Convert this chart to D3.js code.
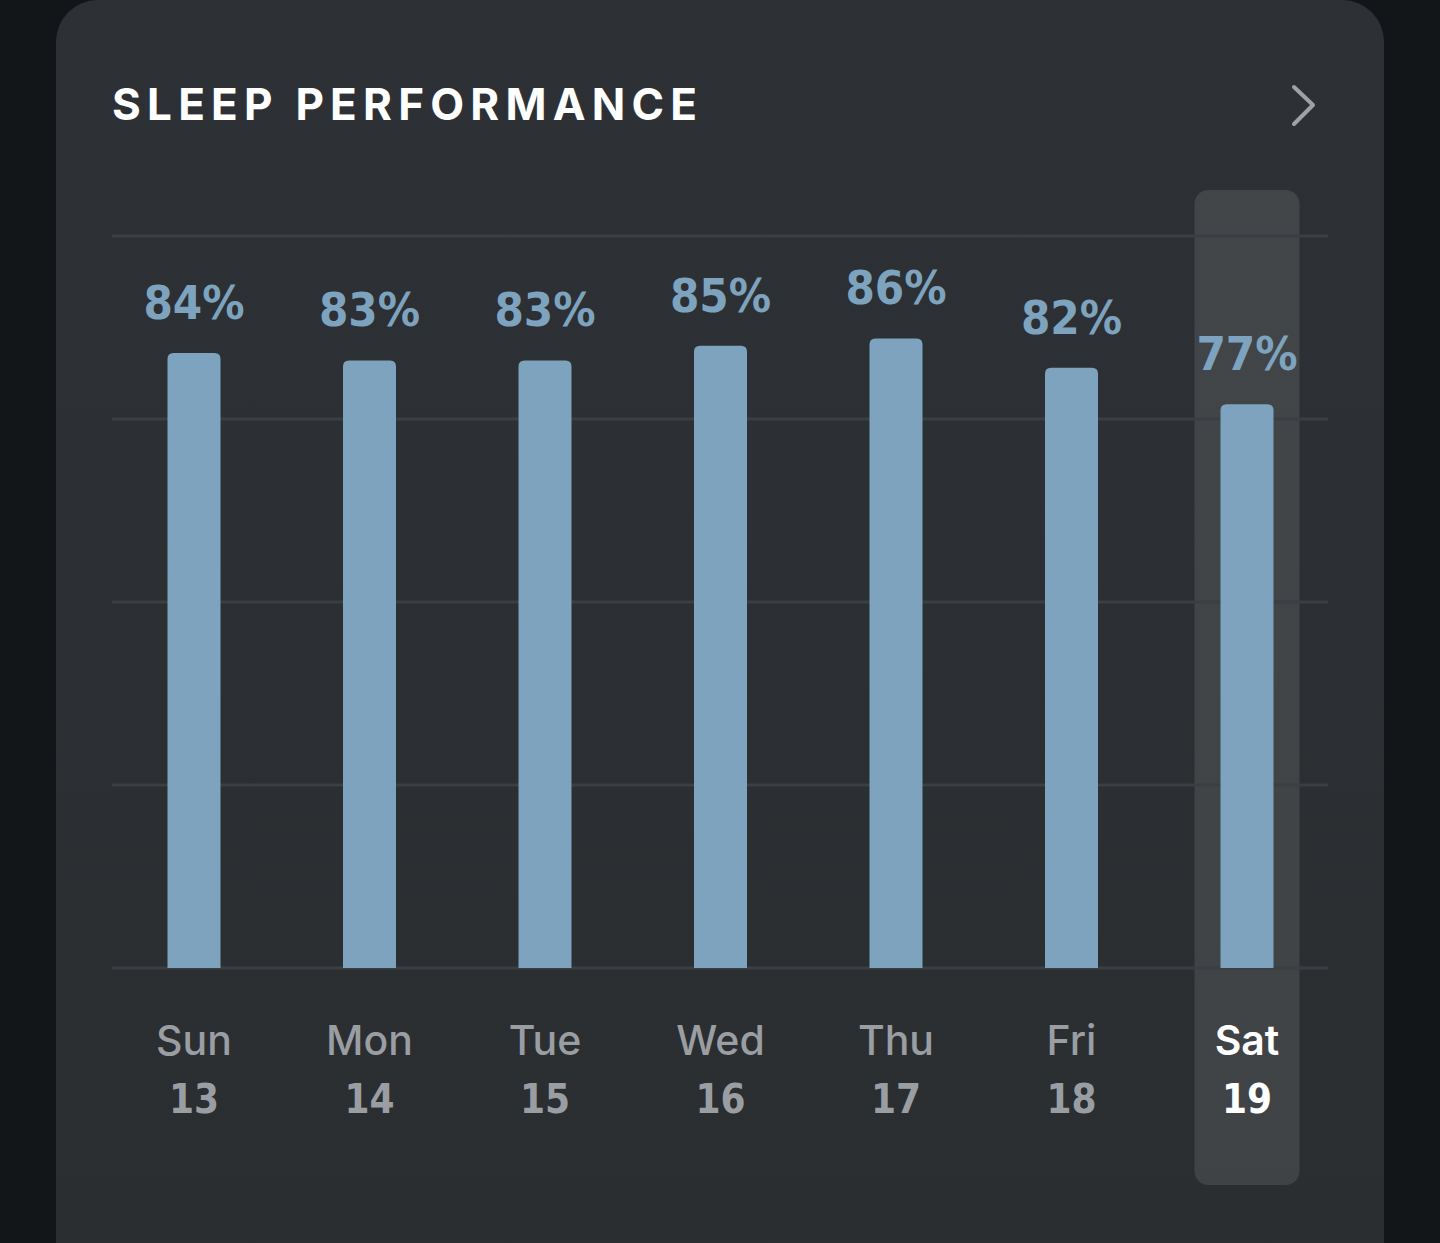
<!DOCTYPE html>
<html>
<head>
<meta charset="utf-8">
<script src="https://cdn.jsdelivr.net/npm/d3@7"></script>
<style>
  html, body { margin: 0; padding: 0; background: #131619; }
  #chart { width: 1440px; height: 1243px; }
</style>
</head>
<body>
<div id="chart"></div>
<script>
// data
const days = ['Sun', 'Mon', 'Tue', 'Wed', 'Thu', 'Fri', 'Sat']
const dates = ['13', '14', '15', '16', '17', '18', '19']
const performance = [84, 83, 83, 85, 86, 82, 77]
const gridTicks = [0, 25, 50, 75, 100]
const selectedDay = 'Sat'

const W = 1440, H = 1243

const svg = d3.select('#chart')
    .append('svg')
    .attr('width', W)
    .attr('height', H)

const defs = svg.append('defs')
const grad = defs.append('linearGradient')
    .attr('id', 'cardGrad')
    .attr('x1', 0).attr('y1', 0).attr('x2', 0).attr('y2', 1)
grad.append('stop').attr('offset', '0%').attr('stop-color', '#2d3135')
grad.append('stop').attr('offset', '100%').attr('stop-color', '#2a2e31')

// background + card
svg.append('rect').attr('width', W).attr('height', H).attr('fill', '#131619')
svg.append('rect')
    .attr('x', 56).attr('y', 0)
    .attr('width', 1328).attr('height', H + 60)
    .attr('rx', 42)
    .attr('fill', 'url(#cardGrad)')

// title
svg.append('text')
    .attr('x', 112).attr('y', 120)
    .attr('fill', '#ffffff')
    .attr('font-family', 'Inter, "Open Sans", sans-serif')
    .attr('font-weight', 700)
    .attr('font-size', 44)
    .attr('textLength', 585)
    .attr('lengthAdjust', 'spacing')
    .text('SLEEP PERFORMANCE')

// chevron
svg.append('path')
    .attr('d', 'M1294,87 L1313,105 L1294,124')
    .attr('fill', 'none')
    .attr('stroke', '#9ea2a5')
    .attr('stroke-width', 4)
    .attr('stroke-linecap', 'round')
    .attr('stroke-linejoin', 'round')

const x = d3.scalePoint().domain(days).range([194, 1247])
const y = d3.scaleLinear().domain([0, 100]).range([968, 236])
const barW = 53

// highlight column for selected day
svg.append('rect')
    .attr('x', x(selectedDay) - 52.5)
    .attr('y', 190)
    .attr('width', 105)
    .attr('height', 995)
    .attr('rx', 14)
    .attr('fill', '#ffffff')
    .attr('fill-opacity', 0.1)

// gridlines
svg.append('g')
    .selectAll('line')
    .data(gridTicks)
    .join('line')
    .attr('x1', 112).attr('x2', 1328)
    .attr('y1', d => y(d)).attr('y2', d => y(d))
    .attr('stroke', '#3a3f43')
    .attr('stroke-width', 3)

const data = days.map((d, i) => ({ day: d, date: dates[i], value: performance[i] }))

// bars with rounded top corners
const r = 6
svg.append('g')
    .selectAll('path')
    .data(data)
    .join('path')
    .attr('d', d => {
        const x0 = x(d.day) - barW / 2, x1 = x0 + barW
        const top = y(d.value), bot = y(0)
        return 'M' + x0 + ',' + bot +
            'V' + (top + r) +
            'Q' + x0 + ',' + top + ' ' + (x0 + r) + ',' + top +
            'H' + (x1 - r) +
            'Q' + x1 + ',' + top + ' ' + x1 + ',' + (top + r) +
            'V' + bot + 'Z'
    })
    .attr('fill', '#7ea3be')

// value labels
svg.append('g')
    .selectAll('text')
    .data(data)
    .join('text')
    .attr('x', d => x(d.day))
    .attr('y', d => y(d.value) - 34)
    .attr('text-anchor', 'middle')
    .attr('fill', '#7ea3be')
    .attr('font-family', '"DejaVu Sans Condensed", "DejaVu Sans", sans-serif')
    .attr('font-weight', 'bold')
    .attr('font-size', 47)
    .text(d => d.value + '%')

// day labels
const labels = svg.append('g')
labels.selectAll('text.day')
    .data(data)
    .join('text')
    .attr('class', 'day')
    .attr('x', d => x(d.day))
    .attr('y', 1055)
    .attr('text-anchor', 'middle')
    .attr('fill', d => d.day == selectedDay ? '#ffffff' : '#9a9ea2')
    .attr('font-family', 'Inter, "Open Sans", sans-serif')
    .attr('font-weight', d => d.day == selectedDay ? 600 : 500)
    .attr('font-size', 41)
    .text(d => d.day)

labels.selectAll('text.date')
    .data(data)
    .join('text')
    .attr('class', 'date')
    .attr('x', d => x(d.day))
    .attr('y', 1113)
    .attr('text-anchor', 'middle')
    .attr('fill', d => d.day == selectedDay ? '#ffffff' : '#9a9ea2')
    .attr('font-family', '"DejaVu Sans Condensed", "DejaVu Sans", sans-serif')
    .attr('font-weight', 'bold')
    .attr('font-size', 40)
    .text(d => d.date)
</script>
</body>
</html>
